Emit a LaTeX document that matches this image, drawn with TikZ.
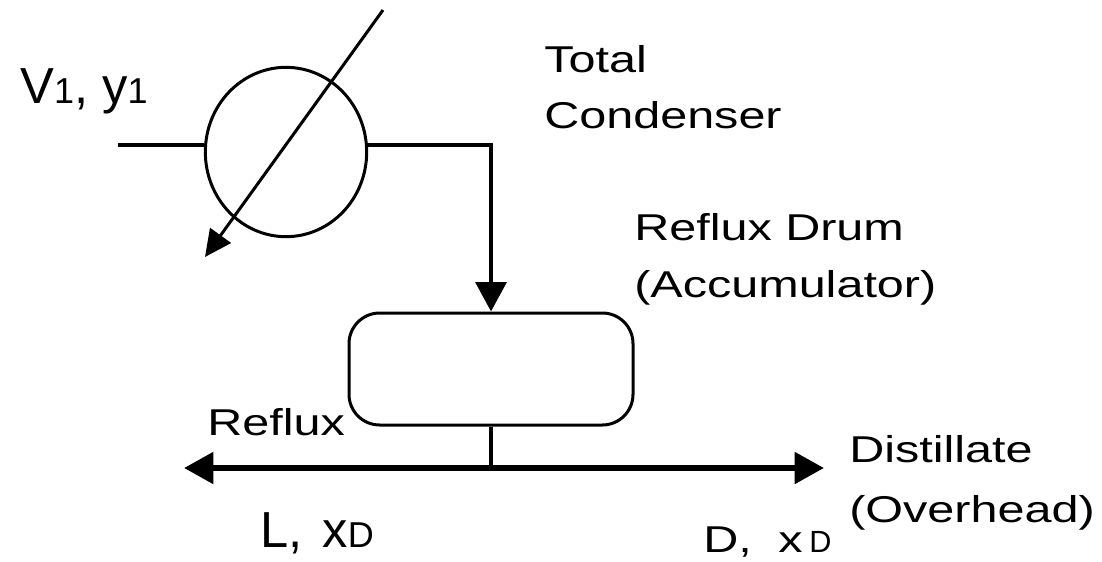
\documentclass[tikz,border=0pt]{standalone}
\usepackage{fontspec}
\setmainfont{Liberation Sans}
\newfontfamily\widefont[FakeStretch=1.3]{Liberation Sans}
\usetikzlibrary{arrows, arrows.meta}
\usetikzlibrary{calc}
\usetikzlibrary{shapes.geometric}
\newcommand{\bigsize}{\fontsize{38}{38}\selectfont}
\newcommand{\subsize}{\fontsize{27}{27}\selectfont}
\newcommand{\minisize}{\fontsize{23}{23}\selectfont}
\tikzset{
  lbl/.style={inner sep=0pt, anchor=base west, font=\widefont\fontsize{28}{28}\selectfont},
  biglbl/.style={inner sep=0pt, anchor=base west, font=\bigsize},
  flow/.style={line width=3pt, -{Triangle[length=22pt, width=23pt]}},
  pipe/.style={line width=3pt},
}
\begin{document}
\begin{tikzpicture}[x=0.75pt, y=-0.75pt]
      \useasboundingbox (0,0) rectangle (1102,561);

      \node[ellipse, draw, line width=2.25pt, inner sep=0pt, minimum width=121pt, minimum height=127pt] (cond) at (286,152) {};
      \node[draw, line width=2.25pt, rounded corners=23pt, minimum width=213pt, minimum height=84pt, inner sep=0pt] (drum) at (491,369) {};
      \coordinate (feed) at (118,145);
      \coordinate (coolin) at (383,10);
      \coordinate (coolout) at (205,257);
      \coordinate (bend) at (491,145);
      \coordinate (split) at (491,468);
      \coordinate (left) at (184,468);
      \coordinate (right) at (824,468);

      \draw[pipe] (feed) -- (cond.west |- feed);
      \draw[line width=2.25pt, -{Triangle[length=20pt, width=19pt]}] (coolin) -- (coolout);
      \draw[flow] (cond.east |- bend) -- (bend) -- (drum.north);
      \draw[pipe] (drum.south) -- (split);
      \draw[flow, line width=4.5pt] (split) -- (left);
      \draw[flow, line width=4.5pt] (split) -- (right);

      \node[biglbl] (stream) at (20,103) {V{\subsize 1}, y{\subsize 1}};
      \node[lbl] (total) at (544,72) {Total};
      \node[lbl] (condname) at (544,128) {Condenser};
      \node[lbl] (drumname) at (634,240) {Reflux Drum};
      \node[lbl] (accum) at (634,297) {(Accumulator)};
      \node[lbl] (reflux) at (207,435) {Reflux};
      \node[lbl] (dist) at (849,462) {Distillate};
      \node[lbl] (over) at (849,522) {(Overhead)};
      \node[biglbl] (lx) at (260,547) {L,\kern15pt x{\subsize D}};
      \node[lbl] (dx) at (703,552) {D,\kern20pt x\kern5pt{\rmfamily\minisize D}};
    \end{tikzpicture}
\end{document}
